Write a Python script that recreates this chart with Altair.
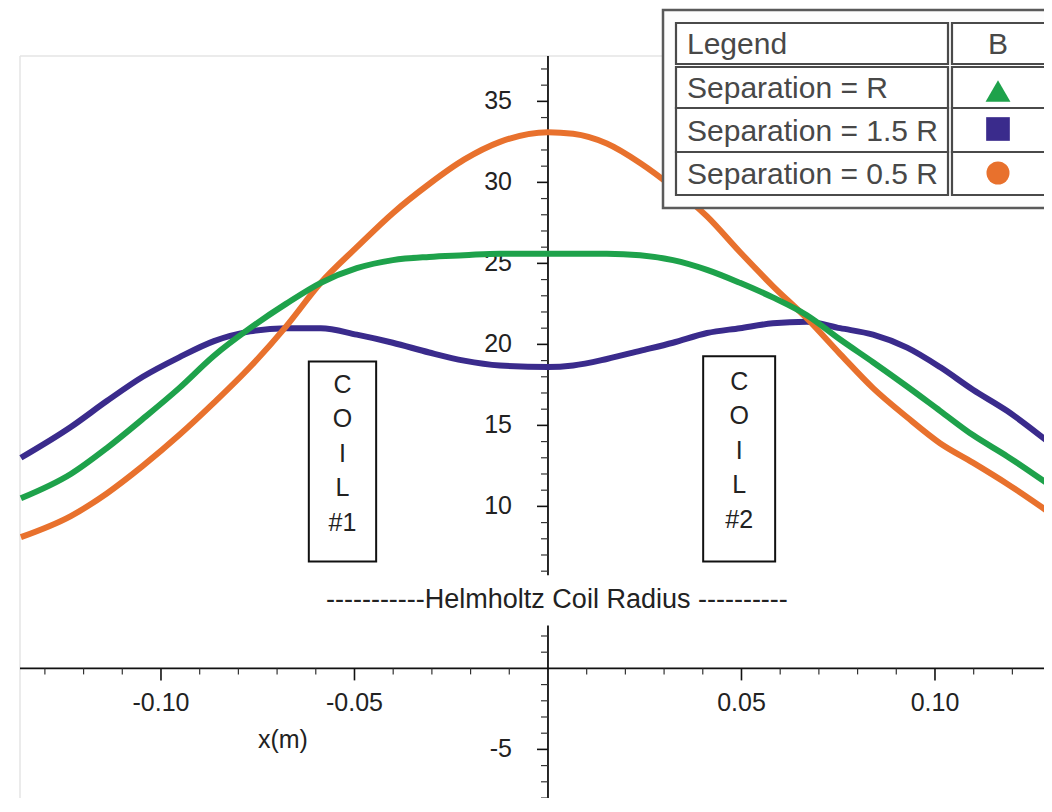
import altair as alt
import pandas as pd

# ---------------- data ----------------
x_m = [-0.1362, -0.1233, -0.1140, -0.1047, -0.0953, -0.0863, -0.0770, -0.0677,
       -0.0587, -0.0494, -0.0401, -0.0307, -0.0217, -0.0124, 0.0,
       0.0065, 0.0152, 0.0238, 0.0323, 0.0411, 0.0496, 0.0581, 0.0669,
       0.0755, 0.0840, 0.0928, 0.1013, 0.1098, 0.1186, 0.1297]

series_names = ["Separation = R", "Separation = 1.5 R", "Separation = 0.5 R"]
b_sep_R = [10.5, 12.0, 13.6, 15.4, 17.3, 19.3, 21.0, 22.5, 23.8, 24.7, 25.2, 25.4, 25.5, 25.6, 25.6,
           25.6, 25.6, 25.5, 25.2, 24.6, 23.8, 22.9, 21.8, 20.3, 18.9, 17.4, 15.9, 14.4, 13.1, 11.3]
b_sep_15R = [13.0, 14.9, 16.5, 18.0, 19.2, 20.2, 20.8, 21.0, 21.0, 20.6, 20.1, 19.5, 19.0, 18.7, 18.6,
             18.7, 19.1, 19.6, 20.1, 20.7, 21.0, 21.3, 21.4, 21.0, 20.6, 19.8, 18.6, 17.2, 15.9, 13.9]
b_sep_05R = [8.1, 9.4, 10.8, 12.5, 14.4, 16.4, 18.6, 21.1, 23.8, 26.0, 28.1, 29.9, 31.4, 32.5, 33.1,
             33.0, 32.4, 31.2, 29.7, 27.9, 25.7, 23.6, 21.6, 19.4, 17.3, 15.5, 13.9, 12.7, 11.4, 9.6]
series_values = [b_sep_R, b_sep_15R, b_sep_05R]
series_colors = ["#1EA24B", "#3A2B8C", "#E8712D"]
series_shapes = ["triangle-up", "square", "circle"]
draw_order = [1, 2, 0]  # purple, orange, green on top

x_tick_values = [-0.10, -0.05, 0.05, 0.10]
y_tick_values = [-5, 5, 10, 15, 20, 25, 30, 35]
y_label_values = [-5, 10, 15, 20, 25, 30, 35]   # the "5" label is hidden behind the radius note
x_minor_ticks = [-0.13, -0.12, -0.11, -0.09, -0.08, -0.07, -0.06, -0.04, -0.03, -0.02, -0.01,
                 0.01, 0.02, 0.03, 0.04, 0.06, 0.07, 0.08, 0.09, 0.11, 0.12]
y_minor_ticks = [v for v in range(-8, 38) if v % 5 != 0]

coil_texts = ["C\nO\nI\nL\n#1", "C\nO\nI\nL\n#2"]
coil_x1 = [-0.0618, 0.0401]
coil_x2 = [-0.0444, 0.0587]
coil_top = [18.95, 19.26]
coil_bottom = [6.6, 6.6]
coil_text_x = [-0.0531, 0.0494]
coil_text_y = [17.5, 17.7]

radius_text = "-----------Helmholtz Coil Radius ----------"
radius_x, radius_y = 0.0023, 4.2
radius_box = (-0.0595, 0.0640, 2.65, 5.75)
xlabel_text, xlabel_x, xlabel_y = "x(m)", -0.0685, -4.44

# ---------------- layout ----------------
FONT = "Liberation Sans"
W, H = 1024, 742
X_DOM = [-0.13643, 0.12817]
Y_DOM = [-8.0, 37.8]
OX, OY = 20, 56  # page position of the plot origin
SVG_RIGHT = OX + W  # page x of the drawing's right edge
xs = alt.Scale(domain=X_DOM, nice=False, zero=False)
ys = alt.Scale(domain=Y_DOM, nice=False, zero=False)

anchor = pd.DataFrame({"a": [0]})

rows = []
for name, vals in zip(series_names, series_values):
    for xv, yv in zip(x_m, vals):
        rows.append({"x": xv, "B": yv, "series": name})
df = pd.DataFrame(rows)
color_scale = alt.Scale(domain=series_names, range=series_colors)

AX = "#111111"
layers = []

# faint frame on top and left
layers.append(alt.Chart(anchor).mark_rule(color="#e4e4e4", strokeWidth=1.5).encode(
    x=alt.value(0), x2=alt.value(W), y=alt.value(0)))
layers.append(alt.Chart(anchor).mark_rule(color="#e4e4e4", strokeWidth=1.5).encode(
    x=alt.value(0), y=alt.value(0), y2=alt.value(H)))

# ---- axes crossing at the origin ----
layers.append(alt.Chart(anchor).mark_rule(color=AX, strokeWidth=1.8).encode(
    x=alt.value(0), x2=alt.value(W), y=alt.YDatum(0, scale=ys, axis=None)))
layers.append(alt.Chart(anchor).mark_rule(color=AX, strokeWidth=1.8).encode(
    y=alt.value(0), y2=alt.value(H), x=alt.XDatum(0, scale=xs, axis=None)))
# minor ticks
layers.append(alt.Chart(pd.DataFrame({"v": y_minor_ticks})).mark_rule(
    color="#333", strokeWidth=1.2, xOffset=-7, x2Offset=0).encode(
    x=alt.XDatum(0, scale=xs, axis=None), x2=alt.datum(0),
    y=alt.Y("v:Q", scale=ys, axis=None)))
layers.append(alt.Chart(pd.DataFrame({"v": x_minor_ticks})).mark_rule(
    color="#333", strokeWidth=1.2, yOffset=0, y2Offset=6).encode(
    y=alt.YDatum(0, scale=ys, axis=None), y2=alt.datum(0),
    x=alt.X("v:Q", scale=xs, axis=None)))
# major ticks and labels
xt = pd.DataFrame({"v": x_tick_values, "lab": [f"{v:.2f}" for v in x_tick_values]})
yt = pd.DataFrame({"v": y_tick_values})
yl = pd.DataFrame({"v": y_label_values, "lab": [f"{v:d}" for v in y_label_values]})
layers.append(alt.Chart(xt).mark_rule(color=AX, strokeWidth=1.6, yOffset=0, y2Offset=12).encode(
    y=alt.YDatum(0, scale=ys, axis=None), y2=alt.datum(0), x=alt.X("v:Q", scale=xs, axis=None)))
layers.append(alt.Chart(yt).mark_rule(color=AX, strokeWidth=1.6, xOffset=-11, x2Offset=0).encode(
    x=alt.XDatum(0, scale=xs, axis=None), x2=alt.datum(0), y=alt.Y("v:Q", scale=ys, axis=None)))
layers.append(alt.Chart(xt).mark_text(font=FONT, fontSize=25, color="#222", align="center",
                                      baseline="middle", dy=35).encode(
    x=alt.X("v:Q", scale=xs, axis=None), y=alt.YDatum(0, scale=ys, axis=None), text="lab:N"))
layers.append(alt.Chart(yl).mark_text(font=FONT, fontSize=25, color="#222", align="right",
                                      baseline="middle", dx=-36).encode(
    y=alt.Y("v:Q", scale=ys, axis=None), x=alt.XDatum(0, scale=xs, axis=None), text="lab:N"))

# curves
for idx in draw_order:
    name = series_names[idx]
    layers.append(alt.Chart(df).transform_filter(alt.datum.series == name).mark_line(
        strokeWidth=6, interpolate="monotone").encode(
        x=alt.X("x:Q", scale=xs, axis=None),
        y=alt.Y("B:Q", scale=ys, axis=None),
        color=alt.Color("series:N", scale=color_scale, legend=None)))

# coil boxes
coil_df = pd.DataFrame({"x1": coil_x1, "x2": coil_x2, "y1": coil_top, "y2": coil_bottom,
                        "tx": coil_text_x, "ty": coil_text_y, "t": coil_texts})
layers.append(alt.Chart(coil_df).mark_rect(fill="white", stroke="#111", strokeWidth=2).encode(
    x=alt.X("x1:Q", scale=xs, axis=None), x2="x2:Q",
    y=alt.Y("y1:Q", scale=ys, axis=None), y2="y2:Q"))
layers.append(alt.Chart(coil_df).mark_text(
    font=FONT, fontSize=25, color="#222", lineBreak="\n", lineHeight=34.5,
    align="center", baseline="middle").encode(
    x=alt.X("tx:Q", scale=xs, axis=None), y=alt.Y("ty:Q", scale=ys, axis=None), text="t:N"))

# Helmholtz coil radius note with white background
layers.append(alt.Chart(anchor).mark_rect(fill="white").encode(
    x=alt.XDatum(radius_box[0], scale=xs, axis=None), x2=alt.datum(radius_box[1]),
    y=alt.YDatum(radius_box[2], scale=ys, axis=None), y2=alt.datum(radius_box[3])))
layers.append(alt.Chart(anchor).mark_text(
    font=FONT, fontSize=27, color="#222", align="center", baseline="middle", text=radius_text).encode(
    x=alt.XDatum(radius_x, scale=xs, axis=None), y=alt.YDatum(radius_y, scale=ys, axis=None)))

# x axis title
layers.append(alt.Chart(anchor).mark_text(
    font=FONT, fontSize=25, color="#222", align="center", baseline="middle", text=xlabel_text).encode(
    x=alt.XDatum(xlabel_x, scale=xs, axis=None), y=alt.YDatum(xlabel_y, scale=ys, axis=None)))

# ---------------- table-style legend ----------------
def prect(x1, x2, y1, y2, fill, stroke, sw):
    return alt.Chart(anchor).mark_rect(fill=fill, stroke=stroke, strokeWidth=sw).encode(
        x=alt.value(x1 - OX), x2=alt.value(x2 - OX), y=alt.value(y1 - OY), y2=alt.value(y2 - OY))

def ptext(txt, x, y, align):
    return alt.Chart(anchor).mark_text(
        font=FONT, fontSize=30, color="#484848", align=align, baseline="middle", text=txt).encode(
        x=alt.value(x - OX), y=alt.value(y - OY))

LEFT_COL = (676, 948)
RIGHT_COL = (952, SVG_RIGHT + 6)
layers.append(prect(663, SVG_RIGHT + 6, 10, 208, "#fdfdfd", "#5a5a5a", 2.5))
row_bounds = [(23, 64), (67, 108), (108, 152), (152, 195)]
for (t, b) in row_bounds:
    layers.append(prect(LEFT_COL[0], LEFT_COL[1], t, b, "#ffffff", "#4a4a4a", 2.2))
    layers.append(prect(RIGHT_COL[0], RIGHT_COL[1], t, b, "#ffffff", "#4a4a4a", 2.2))
layers.append(ptext("Legend", 687, 45, "left"))
layers.append(ptext("B", 998, 45, "center"))
text_centers = [89, 131.5, 174.5]
symbol_centers = [91, 129, 173]
symbol_sizes = [620, 560, 530]
for i in range(3):
    layers.append(ptext(series_names[i], 687, text_centers[i], "left"))
    layers.append(alt.Chart(anchor).mark_point(
        shape=series_shapes[i], filled=True, opacity=1, color=series_colors[i],
        size=symbol_sizes[i], strokeWidth=0).encode(
        x=alt.value(998 - OX), y=alt.value(symbol_centers[i] - OY)))

chart = alt.layer(*layers).properties(
    width=W, height=H,
    padding={"left": OX - 8, "top": OY - 8, "right": 0, "bottom": 0},
    autosize=alt.AutoSizeParams(type="none"),
    background="white",
).configure_view(stroke="transparent")

chart.save("out.html", embed_options={"renderer": "svg", "actions": False})
